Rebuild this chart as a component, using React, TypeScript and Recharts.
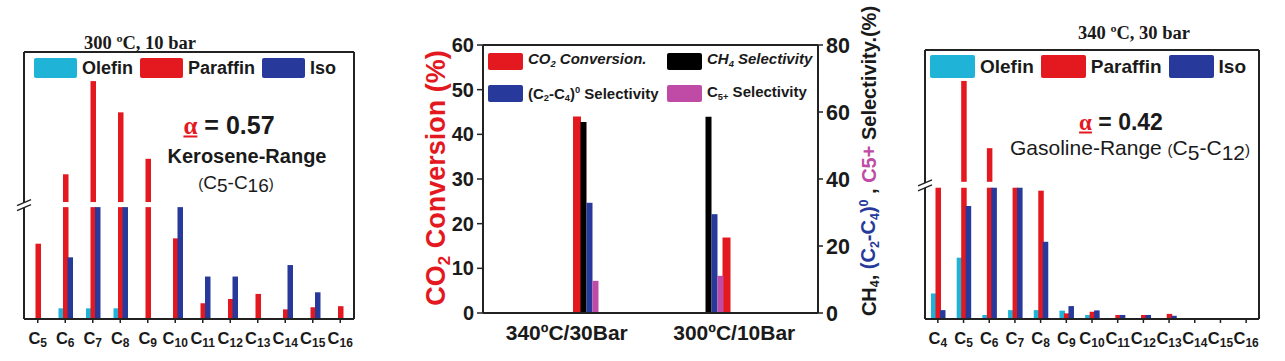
import React from "react"
import { BarChart, Bar, XAxis, YAxis, Legend } from "recharts"

const RED = "#e3191f"
const BLUE = "#27399a"
const CYAN = "#1fb3d7"
const MAGENTA = "#c04ba6"
const INK = "#1a1a1a"
const SANS = '"Liberation Sans", Arial, sans-serif'
const SERIF = '"Liberation Serif", "Times New Roman", serif'

// left panel, 300 °C / 10 bar (relative heights, broken axis)
const kCarbons = ["5", "6", "7", "8", "9", "10", "11", "12", "13", "14", "15", "16"]
const kOlefin = [0, 4, 4, 4, 0, 0, 0, 0, 0, 0, 0, 0]
const kParaffin = [28.2, 54.2, 89.1, 77.4, 60.0, 30.2, 5.9, 7.5, 9.4, 3.6, 4.4, 4.8]
const kIso = [0, 23.1, 41.9, 41.9, 0, 41.9, 15.9, 15.9, 0, 20.2, 10.0, 0]
const kBreak = [41.9, 43.8]

// right panel, 340 °C / 30 bar
const gCarbons = ["4", "5", "6", "7", "8", "9", "10", "11", "12", "13", "14", "15", "16"]
const gOlefin = [9.5, 22.8, 1.5, 3.3, 3.3, 3.1, 1.5, 0, 0, 0, 0, 0, 0]
const gParaffin = [48.8, 88.5, 63.5, 48.8, 47.7, 2.1, 2.7, 1.5, 1.5, 1.9, 0, 0, 0]
const gIso = [3.3, 42.0, 48.8, 48.8, 28.7, 4.8, 3.2, 1.5, 1.5, 1.2, 0, 0, 0]
const gBreak = [48.8, 51.0]

// middle panel
const conditions = ["340ºC/30Bar", "300ºC/10Bar"]
const co2Conversion = [44, 16.9]
const ch4Selectivity = [57, 58.6]
const c2c4Selectivity = [32.9, 29.5]
const c5Selectivity = [9.6, 11.1]
const convTicks = [0, 10, 20, 30, 40, 50, 60]
const selTicks = [0, 20, 40, 60, 80]

const boxLine = { stroke: "#222", strokeWidth: 2 }

const Sub = ({ children }: { children: React.ReactNode }) => (
  <span style={{ fontSize: "0.62em", verticalAlign: "-0.3em" }}>{children}</span>
)
const Sup = ({ children }: { children: React.ReactNode }) => (
  <span style={{ fontSize: "0.62em", verticalAlign: "0.6em" }}>{children}</span>
)

// bar that is cut where the axis is broken
function brokenBar(lo: number, hi: number) {
  return (p: any) => {
    const v = Array.isArray(p.value) ? p.value[1] - p.value[0] : p.value
    if (!v || !(p.height > 0)) return <g />
    const base = p.y + p.height
    if (v <= hi) return <rect x={p.x} y={p.y} width={p.width} height={p.height} fill={p.fill} />
    const k = p.height / v
    const yLo = base - lo * k
    const yHi = base - hi * k
    return (
      <g>
        <rect x={p.x} y={yLo} width={p.width} height={base - yLo} fill={p.fill} />
        <rect x={p.x} y={p.y} width={p.width} height={yHi - p.y} fill={p.fill} />
      </g>
    )
  }
}

const BreakMark = (p: any) => {
  const { x, y } = p
  return (
    <g>
      <polygon points={`${x - 7},${y + 1} ${x + 7},${y - 5} ${x + 7},${y} ${x - 7},${y + 6}`} fill="#fff" />
      <line x1={x - 7} y1={y + 1} x2={x + 7} y2={y - 5} stroke="#222" strokeWidth={1.4} />
      <line x1={x - 7} y1={y + 6} x2={x + 7} y2={y} stroke="#222" strokeWidth={1.4} />
    </g>
  )
}

const CarbonTick = (p: any) => (
  <text x={p.x} y={p.y + 19} textAnchor="middle" fontFamily={SANS} fontWeight="bold" fill={INK}>
    <tspan fontSize={16.5}>C</tspan>
    <tspan fontSize={12} dy={3}>{p.payload.value}</tspan>
  </text>
)

const CondTick = (p: any) => (
  <text x={p.x} y={p.y + 27} textAnchor="middle" fontFamily={SANS} fontWeight="bold" fontSize={21} fill={INK}>
    {p.payload.value}
  </text>
)

function SideLegend({ size, sw, sh }: { size: number; sw: number; sh: number }) {
  const items = [
    { name: "Olefin", color: CYAN },
    { name: "Paraffin", color: RED },
    { name: "Iso", color: BLUE },
  ]
  return (
    <div style={{ display: "flex", alignItems: "center", fontFamily: SANS, fontWeight: "bold", fontSize: size, color: INK, lineHeight: 1 }}>
      {items.map((it) => (
        <div key={it.name} style={{ display: "flex", alignItems: "center", marginRight: 7 }}>
          <div style={{ width: sw, height: sh, background: it.color, borderRadius: 2 }} />
          <span style={{ marginLeft: 5 }}>{it.name}</span>
        </div>
      ))}
    </div>
  )
}

function Distribution(props: {
  carbons: string[]
  olefin: number[]
  paraffin: number[]
  iso: number[]
  brk: number[]
  width: number
  margin: { top: number; left: number; right: number; bottom: number }
  legend: { left: number; top: number; size: number; sw: number; sh: number }
}) {
  const { carbons, olefin, paraffin, iso, brk, width, margin, legend } = props
  const data = carbons.map((c, i) => ({ c, olefin: olefin[i], paraffin: paraffin[i], iso: iso[i] }))
  const shape = brokenBar(brk[0], brk[1])
  return (
    <BarChart width={width} height={361} data={data} margin={margin} barGap={-1}>
      <XAxis dataKey="c" height={30} interval={0} tickSize={4} tickMargin={2} axisLine={boxLine} tickLine={{ stroke: "#222", strokeWidth: 1.5 }} tick={<CarbonTick />} />
      <XAxis xAxisId="top" dataKey="c" orientation="top" height={1} tick={false} tickLine={false} axisLine={boxLine} />
      <YAxis type="number" domain={[0, 100]} width={1} ticks={[(brk[0] + brk[1]) / 2]} tickSize={0} tickMargin={0} tickLine={false} axisLine={boxLine} tick={<BreakMark />} />
      <YAxis yAxisId="box" orientation="right" type="number" domain={[0, 1]} ticks={[0, 1]} width={1} tick={false} tickLine={false} axisLine={boxLine} />
      <Legend
        layout="horizontal"
        verticalAlign="middle"
        align="center"
        wrapperStyle={{ left: legend.left, top: legend.top, width: "auto", height: "auto" }}
        content={() => <SideLegend size={legend.size} sw={legend.sw} sh={legend.sh} />}
      />
      <Bar dataKey="olefin" name="Olefin" fill={CYAN} barSize={5.5} shape={shape} isAnimationActive={false} />
      <Bar dataKey="paraffin" name="Paraffin" fill={RED} barSize={5.5} shape={shape} isAnimationActive={false} />
      <Bar dataKey="iso" name="Iso" fill={BLUE} barSize={5.5} shape={shape} isAnimationActive={false} />
    </BarChart>
  )
}

function MidLegend() {
  const items = [
    { key: "co2", color: RED, italic: true, label: <>CO<Sub>2</Sub> Conversion.</> },
    { key: "ch4", color: "#000", italic: true, label: <>CH<Sub>4</Sub> Selectivity</> },
    { key: "c24", color: BLUE, italic: false, label: <>(C<Sub>2</Sub>-C<Sub>4</Sub>)<Sup>0</Sup> Selectivity</> },
    { key: "c5", color: MAGENTA, italic: false, label: <>C<Sub>5+</Sub> Selectivity</> },
  ]
  return (
    <div style={{ display: "grid", gridTemplateColumns: "179px auto", rowGap: 8, fontFamily: SANS, fontWeight: "bold", fontSize: 15, color: INK, lineHeight: "18px" }}>
      {items.map((it) => (
        <div key={it.key} style={{ display: "flex", alignItems: "center" }}>
          <div style={{ width: 35, height: 17, background: it.color, borderRadius: 2 }} />
          <span style={{ marginLeft: 5, fontStyle: it.italic ? "italic" : "normal", whiteSpace: "nowrap" }}>{it.label}</span>
        </div>
      ))}
    </div>
  )
}

function Overview() {
  const data = conditions.map((cond, i) => ({
    cond,
    co2: co2Conversion[i],
    ch4: ch4Selectivity[i],
    c2c4: c2c4Selectivity[i],
    c5: c5Selectivity[i],
  }))
  const tickStyle = { fill: INK, fontSize: 20, fontWeight: "bold", fontFamily: SANS }
  return (
    <BarChart width={500} height={361} data={data} margin={{ top: 44, left: 33, right: 32, bottom: 12 }} barGap={0}>
      <XAxis xAxisId="lab" dataKey="cond" height={36} interval={0} tickSize={0} tickMargin={0} tickLine={false} axisLine={boxLine} tick={<CondTick />} />
      <XAxis xAxisId="top" dataKey="cond" orientation="top" height={1} tick={false} tickLine={false} axisLine={boxLine} />
      <XAxis xAxisId="conv" dataKey="cond" hide height={0} padding={{ left: 19, right: 17 }} />
      <XAxis xAxisId="sel" dataKey="cond" hide height={0} padding={{ left: 43.5, right: 41.5 }} />
      <YAxis yAxisId="l" type="number" domain={[0, 60]} ticks={convTicks} interval={0} width={50} tickSize={6} tickMargin={3} axisLine={boxLine} tickLine={{ stroke: "#222", strokeWidth: 1.5 }} tick={tickStyle} />
      <YAxis yAxisId="r" orientation="right" type="number" domain={[0, 80]} ticks={selTicks} interval={0} width={50} tickSize={5} tickMargin={3} axisLine={boxLine} tickLine={{ stroke: "#222", strokeWidth: 1.5 }} tick={{ ...tickStyle, fontSize: 21.5 }} />
      <Legend
        layout="horizontal"
        verticalAlign="middle"
        align="center"
        wrapperStyle={{ left: 88, top: 50, width: "auto", height: "auto" }}
        content={() => <MidLegend />}
      />
      <Bar xAxisId="conv" yAxisId="l" dataKey="co2" fill={RED} barSize={8} isAnimationActive={false} />
      <Bar xAxisId="sel" yAxisId="r" dataKey="ch4" fill="#000" barSize={6} isAnimationActive={false} />
      <Bar xAxisId="sel" yAxisId="r" dataKey="c2c4" fill={BLUE} barSize={6} isAnimationActive={false} />
      <Bar xAxisId="sel" yAxisId="r" dataKey="c5" fill={MAGENTA} barSize={6} isAnimationActive={false} />
    </BarChart>
  )
}

function Note({ x, y, children, style, anchor = "middle" }: { x: number; y: number; children: React.ReactNode; style?: React.CSSProperties; anchor?: "middle" | "start" }) {
  return (
    <div
      style={{
        position: "absolute",
        left: x,
        top: y,
        transform: anchor === "middle" ? "translate(-50%, -50%)" : "translate(0, -50%)",
        whiteSpace: "nowrap",
        lineHeight: 1,
        fontFamily: SANS,
        color: INK,
        ...style,
      }}
    >
      {children}
    </div>
  )
}

const Alpha = () => (
  <span style={{ fontFamily: SERIF, color: RED, textDecoration: "underline", fontWeight: "bold" }}>α</span>
)

export default function App() {
  return (
    <div style={{ position: "absolute", left: 0, top: 0, width: 1285, height: 361, background: "#fff", overflow: "hidden" }}>
      <div style={{ position: "absolute", left: 0, top: 0 }}>
        <Distribution
          carbons={kCarbons}
          olefin={kOlefin}
          paraffin={kParaffin}
          iso={kIso}
          brk={kBreak}
          width={380}
          margin={{ top: 51, left: 23, right: 25, bottom: 12 }}
          legend={{ left: 34, top: 58, size: 18, sw: 43, sh: 20 }}
        />
      </div>
      <div style={{ position: "absolute", left: 400, top: 0 }}>
        <Overview />
      </div>
      <div style={{ position: "absolute", left: 900, top: 0 }}>
        <Distribution
          carbons={gCarbons}
          olefin={gOlefin}
          paraffin={gParaffin}
          iso={gIso}
          brk={gBreak}
          width={385}
          margin={{ top: 49, left: 24, right: 25, bottom: 12 }}
          legend={{ left: 30, top: 55, size: 19, sw: 45, sh: 23 }}
        />
      </div>

      <Note x={140} y={43} style={{ fontFamily: SERIF, fontWeight: "bold", fontSize: 18.5 }}>300 ºC, 10 bar</Note>
      <Note x={229} y={125} style={{ fontWeight: "bold", fontSize: 25 }}><Alpha /> = 0.57</Note>
      <Note x={247} y={156} style={{ fontWeight: "bold", fontSize: 20 }}>Kerosene-Range</Note>
      <Note x={236} y={184} style={{ fontSize: 19 }}>
        <span style={{ fontSize: 15 }}>(</span>C<span style={{ verticalAlign: "-0.2em" }}>5</span>-C<span style={{ verticalAlign: "-0.2em" }}>16</span><span style={{ fontSize: 15 }}>)</span>
      </Note>

      <Note x={1134} y={33} style={{ fontFamily: SERIF, fontWeight: "bold", fontSize: 18.5 }}>340 ºC, 30 bar</Note>
      <Note x={1121} y={122} style={{ fontWeight: "bold", fontSize: 23 }}><Alpha /> = 0.42</Note>
      <Note x={1010} y={150} anchor="start" style={{ fontSize: 21 }}>
        Gasoline-Range <span style={{ fontSize: 15 }}>(</span>C<span style={{ verticalAlign: "-0.2em" }}>5</span>-C<span style={{ verticalAlign: "-0.2em" }}>12</span><span style={{ fontSize: 15 }}>)</span>
      </Note>

      <Note x={438} y={178} style={{ transform: "translate(-50%, -50%) rotate(-90deg)", color: RED, fontWeight: "bold", fontSize: 27 }}>
        CO<Sub>2</Sub> Conversion (%)
      </Note>
      <Note x={870} y={161} style={{ transform: "translate(-50%, -50%) rotate(-90deg)", fontWeight: "bold", fontSize: 20 }}>
        CH<Sub>4</Sub>, <span style={{ color: BLUE }}>(C<Sub>2</Sub>-C<Sub>4</Sub>)<Sup>0</Sup></span> , <span style={{ color: MAGENTA }}>C5+</span> Selectivity.(%)
      </Note>
    </div>
  )
}
